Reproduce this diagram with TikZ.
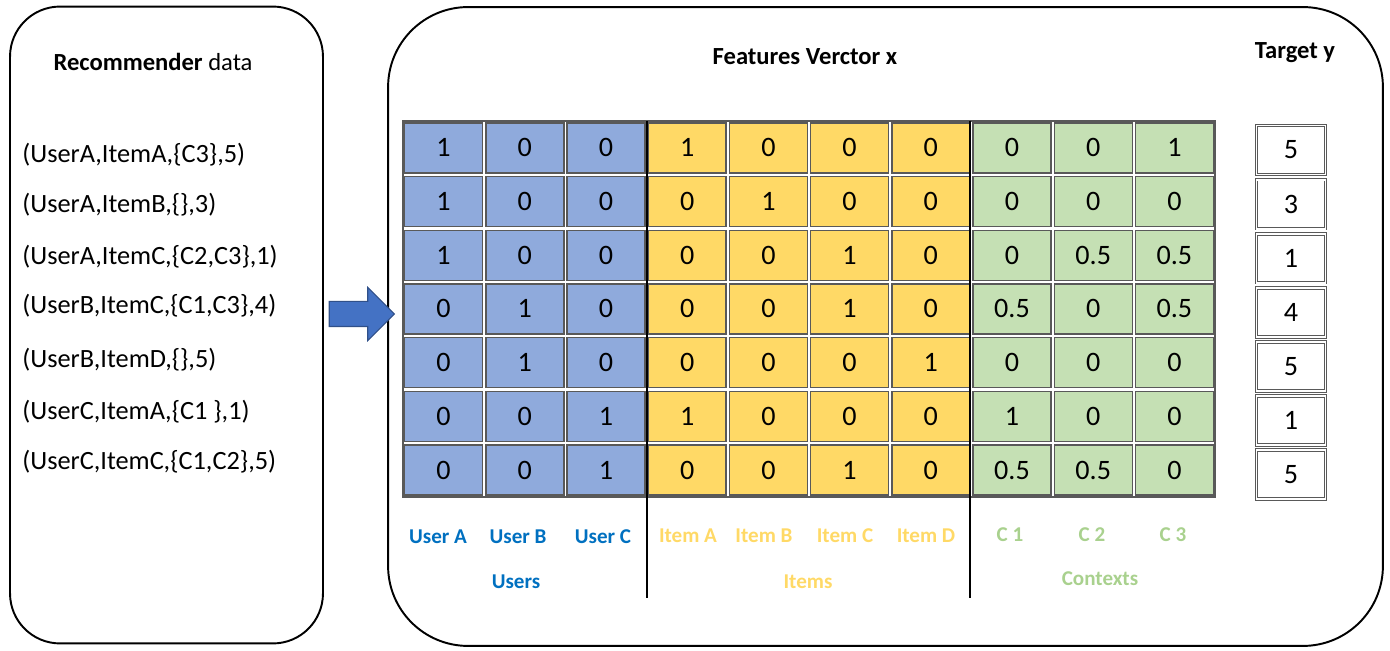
\documentclass[tikz,border=0pt]{standalone}
\usepackage{fontspec}
\setmainfont{Carlito}
\usetikzlibrary{shapes.arrows, positioning}

\definecolor{userfill}{HTML}{8FAADC}
\definecolor{itemfill}{HTML}{FFD966}
\definecolor{ctxfill}{HTML}{C5E0B4}
\definecolor{usertext}{HTML}{0070C0}
\definecolor{itemtext}{HTML}{FFD966}
\definecolor{ctxtext}{HTML}{A9D18E}
\definecolor{arrowfill}{HTML}{4472C4}
\definecolor{cellline}{HTML}{595959}

\begin{document}
\begin{tikzpicture}[
    x=0.02cm, y=-0.02cm,
    panel/.style={draw, line width=1.1pt, inner sep=0pt},
    cell/.style={draw=cellline, line width=0.8pt, minimum width=1.56cm, minimum height=1.0cm,
        inner sep=0pt, font=\fontsize{16}{18}\selectfont},
    ucell/.style={cell, fill=userfill},
    icell/.style={cell, fill=itemfill},
    ccell/.style={cell, fill=ctxfill},
    tcell/.style={cell, draw=cellline, line width=0.5pt, double=white, double distance=1pt,
        minimum width=1.38cm, minimum height=0.98cm},
    title/.style={font=\fontsize{14}{16}\selectfont},
    datarow/.style={anchor=west, inner sep=0pt, font=\fontsize{15}{18}\selectfont},
    lbl/.style={font=\fontsize{12}{14}\selectfont\bfseries},
    sep/.style={line width=1pt}
]
\useasboundingbox (0,0) rectangle (1390,651);

% Panels
\node[panel, rounded corners=1cm, minimum width=6.26cm, minimum height=12.74cm] (data) at (166.5,325) {};
\node[panel, rounded corners=1.6cm, minimum width=19.9cm, minimum height=12.78cm] (feat) at (885.5,326.5) {};

\node[single arrow, fill=arrowfill, draw=arrowfill!70!black, line width=0.6pt,
    inner xsep=0pt, inner ysep=0.24cm, minimum height=1.3cm, minimum width=1.04cm,
    single arrow head extend=0.28cm] (conv) at (355.5,314) {};

% Titles
\node[title] (rtitle) at (153,62) {\textbf{Recommender} data};
\node[title, font=\fontsize{14}{16}\selectfont\bfseries] (ftitle) at (805,57) {Features Verctor x};
\node[title, font=\fontsize{14}{16}\selectfont\bfseries] (ttitle) at (1295,53) {Target y};

% Recommender data
\foreach \txt/\yy [count=\i] in {(UserA{,}ItemA{,}\{C3\}{,}5)/155, (UserA{,}ItemB{,}\{\}{,}3)/205,
    (UserA{,}ItemC{,}\{C2{,}C3\}{,}1)/257, (UserB{,}ItemC{,}\{C1{,}C3\}{,}4)/306,
    (UserB{,}ItemD{,}\{\}{,}5)/360, (UserC{,}ItemA{,}\{C1 \}{,}1)/412, (UserC{,}ItemC{,}\{C1{,}C2\}{,}5)/462}
    \node[datarow] (d\i) at (22,\yy) {\txt};

% Feature matrix and target
\draw[cellline, line width=1pt, fill=white] (403,121) rectangle (1215,497);
\foreach \vals [count=\r] in {{1,0,0,1,0,0,0,0,0,1,5},{1,0,0,0,1,0,0,0,0,0,3},
    {1,0,0,0,0,1,0,0,0.5,0.5,1},{0,1,0,0,0,1,0,0.5,0,0.5,4},{0,1,0,0,0,0,1,0,0,0,5},
    {0,0,1,1,0,0,0,1,0,0,1},{0,0,1,0,0,1,0,0.5,0.5,0,5}} {
  \foreach \v [count=\c] in \vals {
    \ifnum\c<4 \def\sty{ucell}\else\ifnum\c<8 \def\sty{icell}\else\def\sty{ccell}\fi\fi
    \ifnum\c<11
      \node[\sty] (c-\r-\c) at ({403+(\c-0.5)*81.2},{121+(\r-0.5)*53.7}) {\v};
    \else
      \node[tcell] (t-\r) at (1291,{123+(\r-0.5)*54.1}) {\v};
    \fi
  }
}

% Group separators
\draw[sep] (647,121) -- (647,598);
\draw[sep] (970,121) -- (970,598);

% Column labels
\foreach \name/\xx [count=\i] in {User A/438, User B/518, User C/603}
  \node[lbl, text=usertext] (u\i) at (\xx,537) {\name};
\foreach \name/\xx [count=\i] in {Item A/688, Item B/764, Item C/845, Item D/926}
  \node[lbl, text=itemtext] (it\i) at (\xx,536) {\name};
\foreach \name/\xx [count=\i] in {C 1/1010, C 2/1092, C 3/1173}
  \node[lbl, text=ctxtext] (cx\i) at (\xx,535) {\name};

\node[lbl, text=usertext] (users) at (516,582) {Users};
\node[lbl, text=itemtext] (items) at (808,582) {Items};
\node[lbl, text=ctxtext] (ctxs) at (1100,579) {Contexts};
\end{tikzpicture}
\end{document}
